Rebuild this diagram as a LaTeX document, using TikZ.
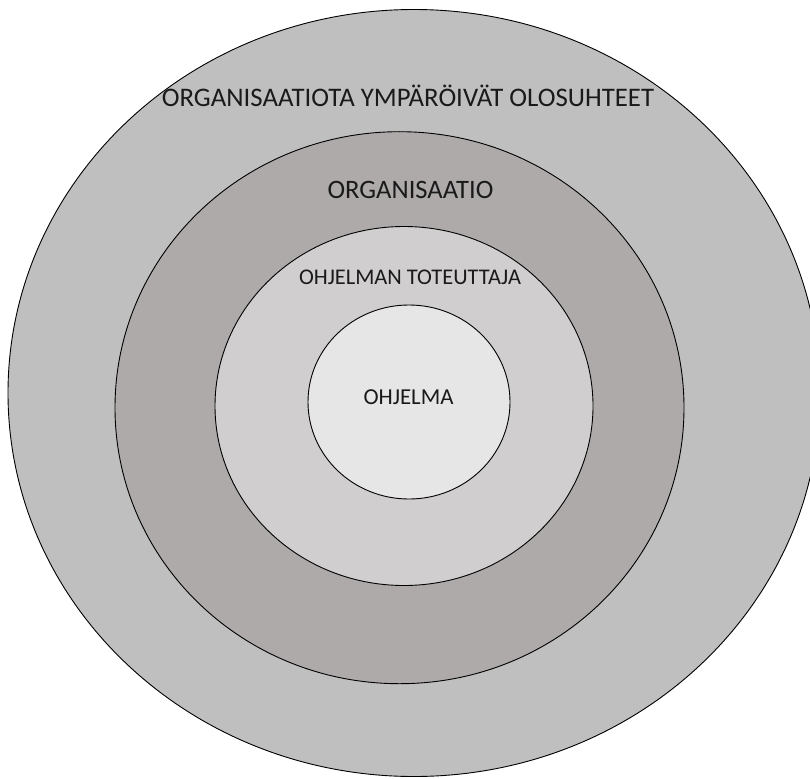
\documentclass[tikz,border=0pt]{standalone}
\usepackage{fontspec}
\setmainfont{Carlito}
\usetikzlibrary{shapes.geometric}
\definecolor{ringA}{HTML}{BFBFBF}
\definecolor{ringB}{HTML}{AEAAAA}
\definecolor{ringC}{HTML}{D0CECE}
\definecolor{ringD}{HTML}{E7E6E6}
\definecolor{txt}{HTML}{1A1A1A}
\tikzset{
  ring/.style={ellipse, draw=black, line width=0.9pt, inner sep=0pt, outer sep=0pt},
  lbl/.style={text=txt, inner sep=0pt, text height=0.63em, text depth=0pt, anchor=center},
}
\begin{document}
\begin{tikzpicture}[x=1pt, y=-1pt]
\useasboundingbox (0,0) rectangle (810,778);
\clip (0,0) rectangle (810,778);
\node[ring, fill=ringA, minimum width=812pt, minimum height=767pt] (outer) at (414,393) {};
\node[ring, fill=ringB, minimum width=569pt, minimum height=552pt] (org) at (399.5,407.7) {};
\node[ring, fill=ringC, minimum width=378pt, minimum height=359pt] (tot) at (404,406) {};
\node[ring, fill=ringD, minimum width=202pt, minimum height=194pt] (ohj) at (409,402) {};
\node[lbl, font=\fontsize{26.8}{32}\selectfont] (t1) at (408,103) {ORGANISAATIOTA YMPÄRÖIVÄT OLOSUHTEET};
\node[lbl, font=\fontsize{26.6}{32}\selectfont] (t2) at (410.5,195) {ORGANISAATIO};
\node[lbl, font=\fontsize{22.4}{27}\selectfont] (t3) at (410,281) {OHJELMAN TOTEUTTAJA};
\node[lbl, font=\fontsize{22.8}{27}\selectfont] (t4) at (408.5,401) {OHJELMA};
\end{tikzpicture}
\end{document}
